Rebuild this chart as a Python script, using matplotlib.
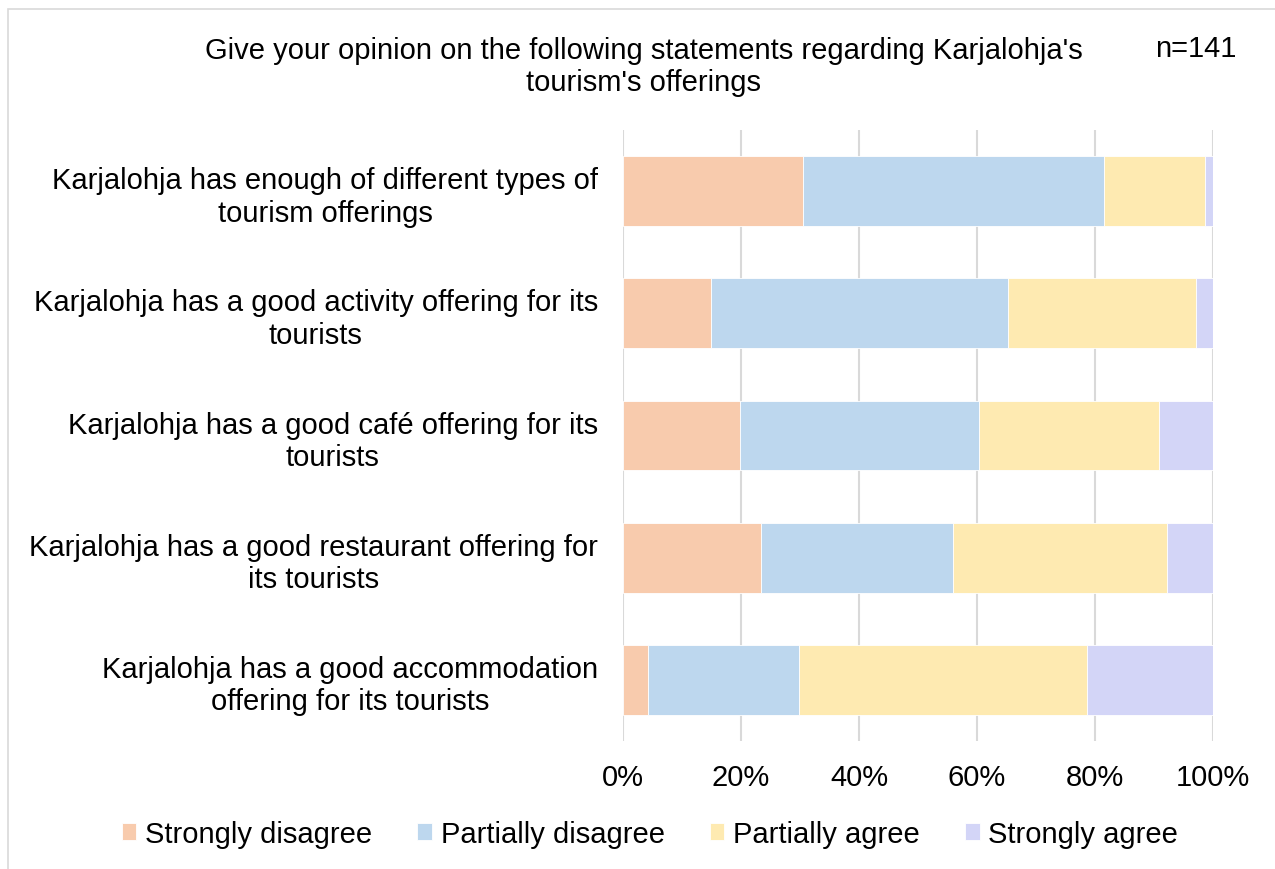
import matplotlib.pyplot as plt
from matplotlib.patches import Rectangle

plt.rcParams['font.family'] = ['Liberation Sans', 'DejaVu Sans']

# Data (percent of respondents, n=141)
statements = [
    "Karjalohja has enough of different types of\ntourism offerings",
    "Karjalohja has a good activity offering for its\ntourists",
    "Karjalohja has a good café offering for its\ntourists",
    "Karjalohja has a good restaurant offering for\nits tourists",
    "Karjalohja has a good accommodation\noffering for its tourists",
]
strongly_disagree = [30.5, 14.9, 19.9, 23.4, 4.3]
partially_disagree = [51.1, 50.4, 40.4, 32.6, 25.5]
partially_agree = [17.0, 31.9, 30.5, 36.2, 48.9]
strongly_agree = [1.4, 2.8, 9.2, 7.8, 21.3]

series_names = ["Strongly disagree", "Partially disagree", "Partially agree", "Strongly agree"]
colors = ["#F8CBAD", "#BDD7EE", "#FEEAB1", "#D3D5F7"]
FS = 21

fig = plt.figure(figsize=(12.75, 8.7), dpi=100)
ax = fig.add_axes([623 / 1275, 1 - 742 / 870, 590 / 1275, 611 / 870])

# chart frame
fig.patches.append(Rectangle((8 / 1275, -0.1), 1.2, 1 - 10 / 870 + 0.1, transform=fig.transFigure,
                             fill=False, edgecolor="#D9D9D9", linewidth=1.2))

pos = list(range(len(statements)))
left = [0] * len(statements)
for name, vals, c in zip(series_names, [strongly_disagree, partially_disagree, partially_agree, strongly_agree], colors):
    ax.barh(pos, vals, left=left, height=0.57, color=c, edgecolor="white", linewidth=0.6, label=name, zorder=3)
    left = [l + v for l, v in zip(left, vals)]

ax.set_xlim(0, 100)
ax.set_ylim(len(statements) - 0.5, -0.5)
ax.set_xticks([0, 20, 40, 60, 80, 100])
ax.set_xticklabels(["0%", "20%", "40%", "60%", "80%", "100%"], fontsize=FS)
ax.set_yticks(pos)
ax.set_yticklabels(statements, fontsize=FS)
for t in ax.get_yticklabels():
    t.set_multialignment("center")
ax.tick_params(axis="both", length=0)
ax.tick_params(axis="y", pad=18)
ax.tick_params(axis="x", pad=16)
ax.grid(axis="x", color="#D9D9D9", linewidth=1.5, zorder=0)
for s in ax.spines.values():
    s.set_visible(False)

fig.text(644 / 1275, 1 - 67 / 870, "Give your opinion on the following statements regarding Karjalohja's\ntourism's offerings",
         ha="center", va="center", fontsize=FS, multialignment="center", linespacing=1.2)
fig.text(1196 / 1275, 1 - 49 / 870, "n=141", ha="center", va="center", fontsize=FS)

fig.legend(loc="center", bbox_to_anchor=(650 / 1275, 1 - 835 / 870), ncol=4, frameon=False,
           fontsize=FS, handlelength=0.5, handleheight=0.5, handletextpad=0.3, columnspacing=1.55)

fig.savefig("out.png", dpi=100)
